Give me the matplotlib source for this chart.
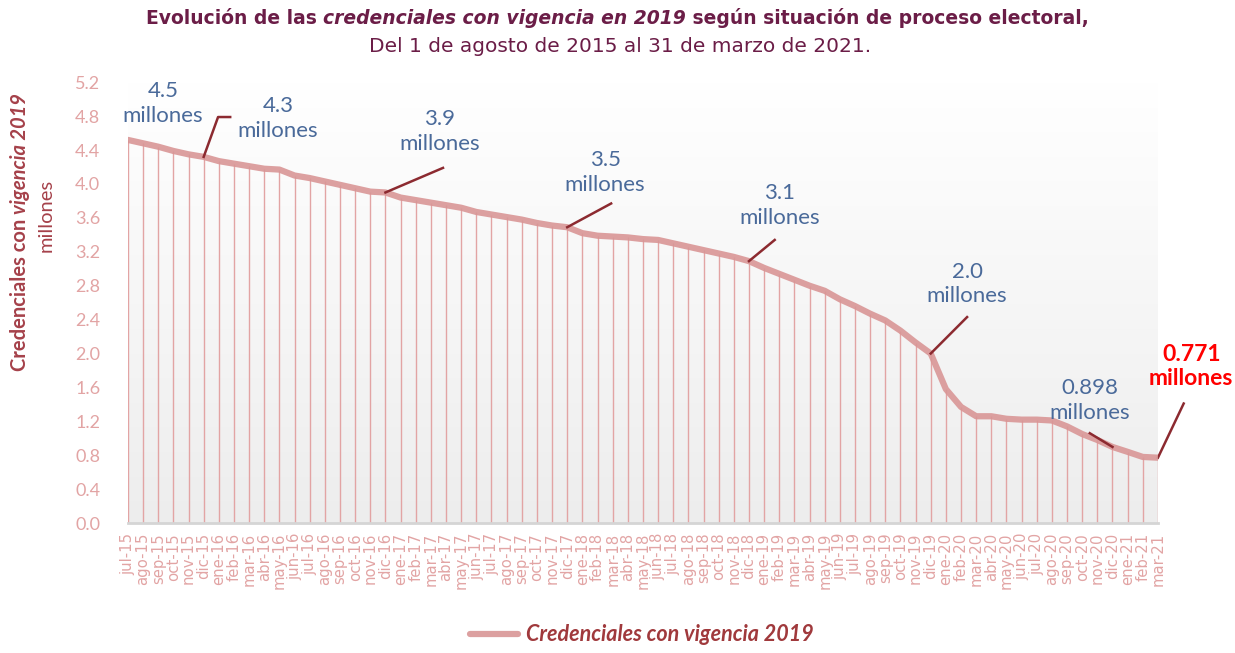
import matplotlib
matplotlib.use("Agg")
import matplotlib.pyplot as plt
import numpy as np

# datos (millones de credenciales)
meses = ['jul-15', 'ago-15', 'sep-15', 'oct-15', 'nov-15', 'dic-15',
         'ene-16', 'feb-16', 'mar-16', 'abr-16', 'may-16', 'jun-16',
         'jul-16', 'ago-16', 'sep-16', 'oct-16', 'nov-16', 'dic-16',
         'ene-17', 'feb-17', 'mar-17', 'abr-17', 'may-17', 'jun-17',
         'jul-17', 'ago-17', 'sep-17', 'oct-17', 'nov-17', 'dic-17',
         'ene-18', 'feb-18', 'mar-18', 'abr-18', 'may-18', 'jun-18',
         'jul-18', 'ago-18', 'sep-18', 'oct-18', 'nov-18', 'dic-18',
         'ene-19', 'feb-19', 'mar-19', 'abr-19', 'may-19', 'jun-19',
         'jul-19', 'ago-19', 'sep-19', 'oct-19', 'nov-19', 'dic-19',
         'ene-20', 'feb-20', 'mar-20', 'abr-20', 'may-20', 'jun-20',
         'jul-20', 'ago-20', 'sep-20', 'oct-20', 'nov-20', 'dic-20',
         'ene-21', 'feb-21', 'mar-21']
credenciales = [4.52, 4.48, 4.44, 4.39, 4.35, 4.32,
                4.27, 4.24, 4.21, 4.18, 4.17, 4.10,
                4.07, 4.03, 3.99, 3.95, 3.91, 3.90,
                3.84, 3.81, 3.78, 3.75, 3.72, 3.67,
                3.64, 3.61, 3.58, 3.54, 3.51, 3.49,
                3.42, 3.39, 3.38, 3.37, 3.35, 3.34,
                3.30, 3.26, 3.22, 3.18, 3.14, 3.09,
                3.01, 2.94, 2.87, 2.80, 2.74, 2.64,
                2.56, 2.47, 2.39, 2.27, 2.13, 2.00,
                1.58, 1.37, 1.26, 1.26, 1.23, 1.22,
                1.22, 1.21, 1.14, 1.05, 0.98, 0.898,
                0.84, 0.78, 0.771]

# etiquetas: (mes, texto, posicion del texto en datos, quiebre del conector)
etiquetas = [('jul-15', '4.5', (2.3, 4.95), None),
             ('dic-15', '4.3', (9.9, 4.77), [(5.95, 4.79), (6.75, 4.79)]),
             ('dic-16', '3.9', (20.6, 4.62), [(20.8, 4.19)]),
             ('dic-17', '3.5', (31.5, 4.14), [(31.9, 3.77)]),
             ('dic-18', '3.1', (43.0, 3.75), [(42.7, 3.34)]),
             ('dic-19', '2.0', (55.4, 2.82), [(55.4, 2.43)]),
             ('dic-20', '0.898', (63.5, 1.45), [(63.5, 1.06)])]

vino = '#6b1d47'
rosa = '#d99696'
rosa_claro = '#e2a4a4'
azul = '#4a6a9a'

plt.rcParams['font.family'] = ['Lato', 'DejaVu Sans']

fig = plt.figure(figsize=(12.35, 6.53), dpi=100)
ax = fig.add_axes([0.1036, 0.199, 0.834, 0.675])

x = np.arange(len(meses))

# fondo degradado
grad = np.linspace(1.0, 0.93, 256).reshape(-1, 1)
ax.imshow(np.dstack([grad, grad, grad]), extent=[0, 1, 0, 1], transform=ax.transAxes,
          aspect='auto', zorder=0)

ax.vlines(x, 0, credenciales, color=rosa_claro, lw=1, zorder=2)
ax.plot(x, credenciales, color=rosa, lw=4.5, alpha=0.9, solid_capstyle='round', zorder=3,
        label='Credenciales con vigencia 2019')

ax.set_xlim(0, len(meses) - 1)
ax.set_ylim(0, 5.2)
ax.set_yticks(np.arange(0, 5.21, 0.4))
ax.set_yticklabels([f'{v:.1f}' for v in np.arange(0, 5.21, 0.4)])
ax.set_xticks(x)
ax.set_xticklabels(meses, rotation=90, family='DejaVu Sans')
ax.tick_params(axis='y', length=0, pad=20, labelsize=13, labelcolor=rosa_claro)
ax.tick_params(axis='x', length=0, pad=7, labelsize=10.7, labelcolor=rosa_claro)
for s in ['left', 'right', 'top']:
    ax.spines[s].set_visible(False)
ax.spines['bottom'].set_color('#d5d5d5')
ax.spines['bottom'].set_linewidth(2)

# anotaciones
for mes, txt, (tx, ty), quiebre in etiquetas:
    i = meses.index(mes)
    ax.text(tx, ty, txt + '\nmillones', ha='center', va='center', fontsize=16,
            color=azul, linespacing=1.3, zorder=5)
    if quiebre:
        px = [i] + [p[0] for p in quiebre]
        py = [credenciales[i]] + [p[1] for p in quiebre]
        ax.plot(px, py, color='#8c2a30', lw=1.8, zorder=4, clip_on=False)

ax.text(70.2, 1.85, '0.771\nmillones', ha='center', va='center', fontsize=16.5,
        fontweight='bold', color='#ff0000', linespacing=1.2, clip_on=False)
ax.plot([68, 69.7], [credenciales[-1], 1.41], color='#8c2a30', lw=1.8, clip_on=False)

fig.canvas.draw()
r = fig.canvas.get_renderer()


def cadena(piezas, x0, y0, rot=0, **kw):
    # coloca trozos de texto uno detras de otro
    objs = []
    for t, st, wt in piezas:
        objs.append(fig.text(x0, y0, t, style=st, weight=wt, rotation=rot,
                             ha='left', va='center', **kw))
    total = 0
    ext = []
    for o in objs:
        bb = o.get_window_extent(r)
        ext.append(bb)
        total += bb.height if rot else bb.width
    W, H = fig.bbox.width, fig.bbox.height
    if rot:
        pos = y0 * H - total / 2
        for o, bb in zip(objs, ext):
            o.set_position((x0, pos / H))
            o.set_va('bottom')
            o.set_ha('center')
            pos += bb.height
    else:
        pos = x0 * W - total / 2
        for o, bb in zip(objs, ext):
            o.set_position((pos / W, y0))
            pos += bb.width


cadena([('Evolución de las ', 'normal', 'bold'),
        ('credenciales con vigencia en 2019', 'oblique', 'bold'),
        (' según situación de proceso electoral,', 'normal', 'bold')],
       0.5, 0.972, fontsize=13.5, color=vino, family='DejaVu Sans')
fig.text(0.502, 0.929, 'Del 1 de agosto de 2015 al 31 de marzo de 2021.', ha='center',
         va='center', fontsize=14.5, color=vino, family='DejaVu Sans')

cadena([('Credenciales con ', 'normal', 'bold'),
        ('vigencia 2019', 'italic', 'bold')],
       0.016, 0.645, rot=90, fontsize=14.5, color='#a5414a')
fig.text(0.037, 0.67, 'millones', rotation=90, ha='center', va='center',
         fontsize=14.5, color='#a5414a')

leg = fig.legend(loc='lower center', bbox_to_anchor=(0.52, -0.018), frameon=False,
                 handlelength=2.2, handletextpad=0.4,
                 prop={'size': 15.5, 'style': 'italic', 'weight': 'bold'})
for t in leg.get_texts():
    t.set_color('#a0393c')

fig.savefig('out.png', dpi=100)
